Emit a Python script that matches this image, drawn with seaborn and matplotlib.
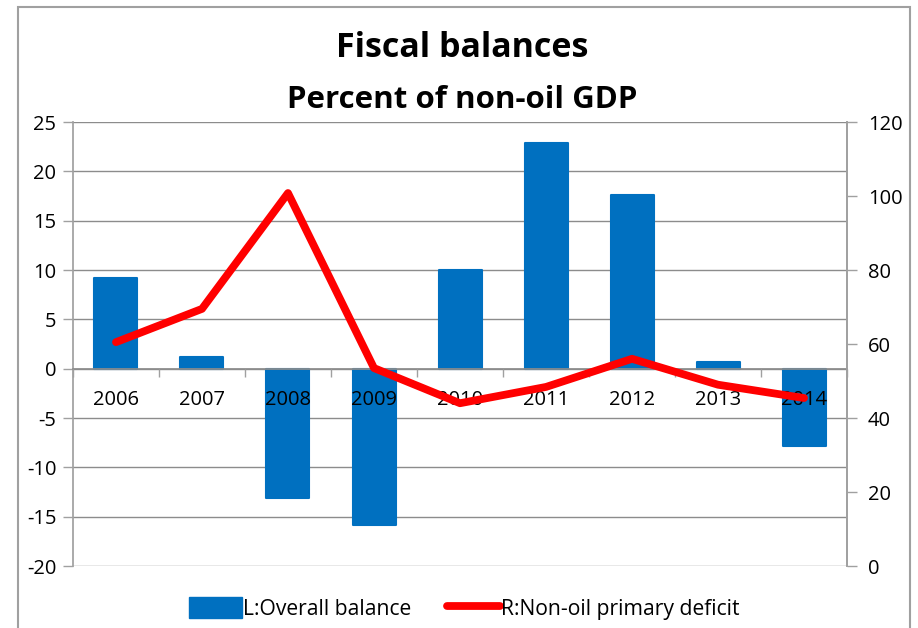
import numpy as np
import pandas as pd
import matplotlib
matplotlib.use("Agg")
import matplotlib.pyplot as plt
from matplotlib.patches import Rectangle
from matplotlib.lines import Line2D
from matplotlib.ticker import FixedLocator
import seaborn as sns

# Fiscal data, percent of non-oil GDP
years = ["2006", "2007", "2008", "2009", "2010", "2011", "2012", "2013", "2014"]
overall_balance = [9.2, 1.2, -13.1, -15.8, 10.0, 22.9, 17.6, 0.7, -7.8]
non_oil_primary_deficit = [60.5, 69.5, 100.8, 53.5, 44.0, 48.4, 56.0, 49.0, 45.4]

left_ticks = [-20, -15, -10, -5, 0, 5, 10, 15, 20, 25]
right_ticks = [0, 20, 40, 60, 80, 100, 120]

BLUE = "#0070C0"
RED = "#FF0000"
GRAY = "#A0A0A0"
GRID = "#8C8C8C"

sns.set_theme(style="white")
plt.rcParams["font.family"] = ["Open Sans", "DejaVu Sans"]
plt.rcParams["axes.unicode_minus"] = False
plt.rcParams["text.color"] = "black"

df = pd.DataFrame({"year": years,
                   "balance": overall_balance,
                   "deficit": non_oil_primary_deficit})
df["pos"] = np.arange(len(df))

fig = plt.figure(figsize=(9.18, 6.28), dpi=100)
ax = fig.add_axes([0.0795, 0.0987, 0.8432, 0.707])

sns.barplot(data=df, x="year", y="balance", color=BLUE, width=0.5,
            saturation=1, ax=ax, zorder=2)
for p in ax.patches:
    p.set_edgecolor(BLUE)
    p.set_linewidth(1.5)
    p.set_joinstyle("round")

ax.set_xlim(-0.5, len(years) - 0.5)
ax.set_ylim(left_ticks[0], left_ticks[-1])
ax.set_yticks(left_ticks)
ax.set_xlabel("")
ax.set_ylabel("")

# horizontal gridlines below the bars
ax.yaxis.grid(True, color=GRID, linewidth=1.0)
ax.xaxis.grid(False)
ax.set_axisbelow(True)
# category labels sit on top of the bars
ax.xaxis.set_zorder(5)

# category axis crossing at zero
ax.spines["bottom"].set_position(("data", 0))
ax.spines["bottom"].set_color(GRID)
ax.spines["bottom"].set_zorder(3)
ax.spines["top"].set_visible(False)
ax.spines["left"].set_color(GRAY)
ax.spines["right"].set_color(GRAY)

ax.xaxis.set_minor_locator(FixedLocator(np.arange(-0.5, len(years), 1.0)))
ax.tick_params(axis="x", which="major", length=0, pad=15, labelsize=14.5,
               labelcolor="black")
ax.tick_params(axis="x", which="minor", bottom=True, length=6, width=1,
               color=GRAY, direction="out")
ax.tick_params(axis="y", left=True, length=7, width=1, color=GRAY,
               direction="out", labelsize=14.5, labelcolor="black", pad=5)

# right axis: non-oil primary deficit
ax2 = ax.twinx()
sns.lineplot(data=df, x="pos", y="deficit", color=RED, linewidth=5.6,
             ax=ax2, solid_capstyle="round", solid_joinstyle="round",
             zorder=4)
ax2.set_ylim(right_ticks[0], right_ticks[-1])
ax2.set_yticks(right_ticks)
ax2.set_xlim(-0.5, len(years) - 0.5)
ax2.set_xlabel("")
ax2.set_ylabel("")
ax2.grid(False)
for s in ["top", "bottom", "left"]:
    ax2.spines[s].set_visible(False)
ax2.spines["right"].set_color(GRAY)
ax2.tick_params(axis="y", right=True, length=7, width=1, color=GRAY,
                direction="out", labelsize=14.5, labelcolor="black", pad=8)

# titles
fig.text(0.503, 1 - 57 / 628, "Fiscal balances", ha="center", va="baseline",
         fontsize=24.5, fontweight="bold", color="black")
fig.text(0.503, 1 - 108 / 628, "Percent of non-oil GDP", ha="center",
         va="baseline", fontsize=22.5, fontweight="bold", color="black")

# legend
handles = [Rectangle((0, 0), 1, 1, facecolor=BLUE, edgecolor=BLUE),
           Line2D([0], [0], color=RED, linewidth=5.6, solid_capstyle="round")]
fig.legend(handles, ["L:Overall balance", "R:Non-oil primary deficit"],
           loc="center", bbox_to_anchor=(0.506, 0.031), ncol=2, frameon=False,
           fontsize=15.2, handlelength=2.5, handleheight=1.1, handletextpad=0.05,
           columnspacing=1.7)

# outer chart frame
frame = Rectangle((18 / 918, -0.1), (910 - 18) / 918, 1.1 - 7 / 628,
                  transform=fig.transFigure, fill=False, edgecolor=GRAY,
                  linewidth=1.5, clip_on=False)
fig.patches.append(frame)

fig.savefig("out.png", dpi=100)
